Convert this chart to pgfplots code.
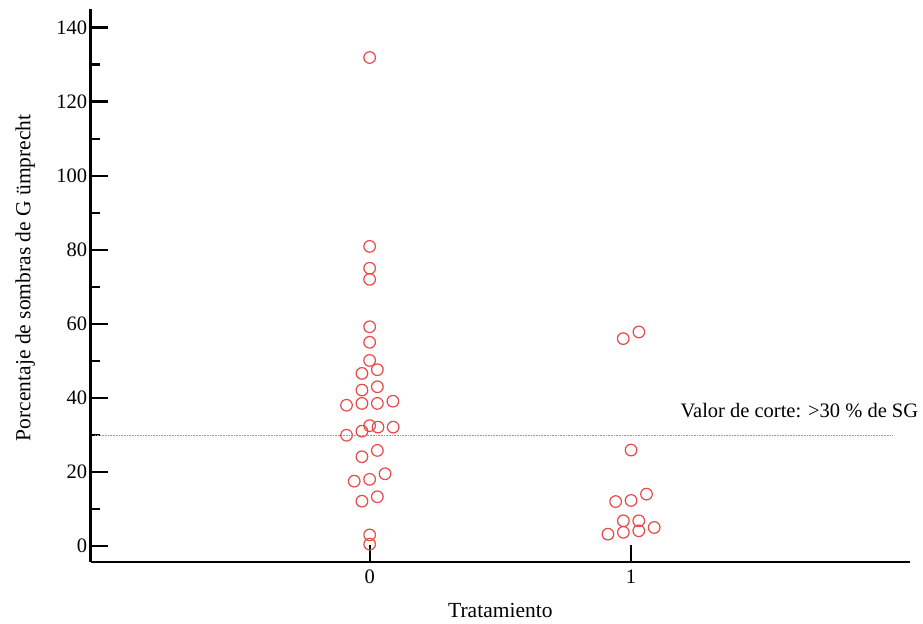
\documentclass[border=0pt]{standalone}
\usepackage{fontspec}
\setmainfont{Liberation Serif}
\usepackage{pgfplots}
\pgfplotsset{compat=1.18}
\usetikzlibrary{calc}
\definecolor{ptred}{RGB}{232,72,72}
\begin{document}
\begin{tikzpicture}
\begin{axis}[
  scale only axis,
  width=819.3bp, height=553bp,
  xmin=-1.067, xmax=2.067,
  ymin=-4.32, ymax=145,
  axis x line=bottom, axis y line=left,
  axis line style={-, line width=2.5bp, black},
  xtick={0,1}, xticklabels={0,1},
  ytick={0,20,...,140},
  minor y tick num=1,
  major tick length=17bp, minor tick length=9bp,
  every tick/.style={black, line width=2.2bp},
  tick align=inside,
  /pgf/number format/assume math mode=true,
  ticklabel style={font=\fontsize{20.5bp}{24bp}\selectfont},
  xticklabel style={yshift=-4bp},
  xlabel={Tratamiento},
  ylabel={Porcentaje de sombras de G ümprecht},
  every axis x label/.style={at={(axis description cs:0.5,-0.0868)}, anchor=center, font=\fontsize{21.5bp}{25bp}\selectfont},
  every axis y label/.style={at={(axis description cs:-0.080,0.514)}, anchor=center, rotate=90, font=\fontsize{21.5bp}{25bp}\selectfont},
  clip=false,
]
\addplot[gray!80, densely dotted, line width=0.6bp] coordinates {(-1.05,30) (2.0,30)};
\addplot[only marks, mark=o, mark size=5.8bp, mark options={ptred, line width=1.2bp}] coordinates {
(0,131.9) (0,80.9) (0,75.0) (0,72.0) (0,59.2) (0,55.0) (0,50.1)
(-0.0295,46.6) (0.0295,47.6) (-0.0295,42.1) (0.0295,43.0)
(-0.0885,38.0) (-0.0295,38.5) (0.0295,38.5) (0.089,39.1)
(-0.0885,29.9) (-0.0295,31.0) (0,32.5) (0.032,32.1) (0.09,32.1)
(0.0295,25.8) (-0.0295,24.1) (0.059,19.5) (-0.059,17.5) (0,18.0)
(0.0295,13.3) (-0.0295,12.1) (0,3.0) (0,0.5)
};
\addplot[only marks, mark=o, mark size=5.8bp, mark options={ptred, line width=1.2bp}] coordinates {
(0.97,56.0) (1.03,57.8) (1.0,25.9)
(0.9410,12.0) (1.0,12.3) (1.059,14.0)
(0.9705,6.8) (1.0295,6.8)
(0.9115,3.2) (0.9705,3.7) (1.0295,4.1) (1.0885,5.0)
};
\node[anchor=base east, inner sep=0pt, font=\fontsize{20.5bp}{24bp}\selectfont] at (axis cs:2.099,34.6) {Valor de corte: >30 \% de SG};
\coordinate (SW) at (rel axis cs:0,0);
\coordinate (NE) at (rel axis cs:1,1);
\end{axis}
\pgfresetboundingbox
\path[use as bounding box] ($(SW)+(-90.7bp,-62bp)$) rectangle ($(NE)+(13bp,9bp)$);
\end{tikzpicture}
\end{document}
